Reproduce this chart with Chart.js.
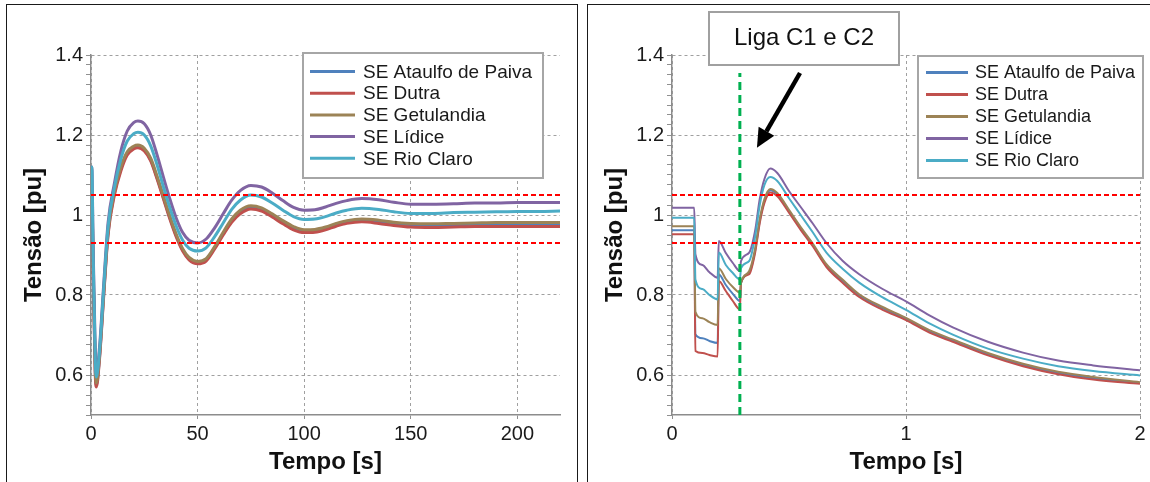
<!DOCTYPE html>
<html>
<head>
<meta charset="utf-8">
<script src="https://cdn.jsdelivr.net/npm/chart.js@4.4.1/dist/chart.umd.min.js"></script>
<style>
  body { margin: 0; background: #fff; width: 1150px; height: 482px; overflow: hidden; position: relative; }
  .frame { position: absolute; border: 1.5px solid #1a1a1a; box-sizing: border-box; }
  canvas { position: absolute; }
</style>
</head>
<body>
<div class="frame" style="left:6px;top:4px;width:572px;height:490px;"></div>
<div class="frame" style="left:587px;top:4px;width:575px;height:490px;"></div>
<canvas id="leftChart" width="568" height="476" style="left:8px;top:6px;"></canvas>
<canvas id="rightChart" width="561" height="476" style="left:589px;top:6px;"></canvas>
<script>
const seriesNames = ['SE Ataulfo de Paiva', 'SE Dutra', 'SE Getulandia', 'SE Lídice', 'SE Rio Claro'];
const seriesColors = ['#4f81bd', '#c0504d', '#9c8356', '#8064a2', '#4bacc6'];
const limitValues = [0.93, 1.05];
const switchTime = 0.29;
const yTickLabels = [0.6, 0.8, 1, 1.2, 1.4];
const leftXTicks = [0, 50, 100, 150, 200];
const rightXTicks = [0, 1, 2];

// left: 0..220 s
const leftTime = [0, 0.4, 1, 2, 2.5, 4, 6, 8, 11, 14, 17, 20, 22, 25, 28, 31, 34, 37, 40, 43, 46, 50, 54, 58, 62,
  66, 70, 75, 80, 85, 90, 95, 100, 105, 110, 115, 120, 127, 135, 142, 150, 160, 170, 180, 190, 200, 210, 220];
const leftAtaulfo = [0.965, 1.06, 0.86, 0.61, 0.575, 0.645, 0.805, 0.955, 1.055, 1.115, 1.153, 1.168, 1.171, 1.163, 1.138,
  1.093, 1.043, 0.993, 0.948, 0.913, 0.891, 0.881, 0.888, 0.918, 0.953, 0.985, 1.007, 1.019, 1.014, 0.999,
  0.982, 0.967, 0.96, 0.961, 0.967, 0.976, 0.983, 0.987, 0.984, 0.979, 0.976, 0.975, 0.976, 0.977, 0.978, 0.978, 0.978, 0.978];
const leftDutra = [0.955, 1.06, 0.85, 0.6, 0.57, 0.64, 0.8, 0.95, 1.05, 1.11, 1.15, 1.165, 1.168, 1.16, 1.135,
  1.09, 1.04, 0.99, 0.945, 0.91, 0.888, 0.878, 0.885, 0.915, 0.95, 0.982, 1.003, 1.015, 1.01, 0.995,
  0.978, 0.963, 0.956, 0.957, 0.963, 0.972, 0.979, 0.983, 0.979, 0.974, 0.970, 0.969, 0.970, 0.971, 0.971, 0.971, 0.971, 0.971];
const leftGetulandia = [0.975, 1.065, 0.87, 0.62, 0.58, 0.65, 0.81, 0.96, 1.06, 1.12, 1.158, 1.172, 1.175, 1.167, 1.142,
  1.097, 1.047, 0.997, 0.952, 0.916, 0.894, 0.884, 0.891, 0.921, 0.957, 0.99, 1.012, 1.023, 1.018, 1.003,
  0.986, 0.971, 0.963, 0.964, 0.97, 0.979, 0.986, 0.99, 0.987, 0.982, 0.979, 0.978, 0.979, 0.98, 0.981, 0.981, 0.981, 0.981];
const leftLidice = [1.02, 1.12, 0.92, 0.66, 0.6, 0.67, 0.83, 0.98, 1.08, 1.16, 1.21, 1.231, 1.235, 1.228, 1.2,
  1.15, 1.094, 1.04, 0.992, 0.956, 0.937, 0.93, 0.94, 0.968, 1.003, 1.037, 1.061, 1.074, 1.07, 1.055,
  1.036, 1.019, 1.012, 1.013, 1.02, 1.029, 1.036, 1.041, 1.038, 1.032, 1.027, 1.027, 1.028, 1.03, 1.03, 1.031, 1.031, 1.031];
const leftRioClaro = [0.995, 1.12, 0.9, 0.64, 0.595, 0.66, 0.82, 0.97, 1.07, 1.14, 1.185, 1.203, 1.207, 1.2, 1.173,
  1.125, 1.07, 1.018, 0.972, 0.937, 0.917, 0.91, 0.918, 0.946, 0.98, 1.014, 1.037, 1.05, 1.045, 1.03,
  1.012, 0.996, 0.989, 0.99, 0.996, 1.005, 1.012, 1.017, 1.014, 1.008, 1.004, 1.004, 1.006, 1.007, 1.008, 1.009, 1.009, 1.01];

// right: 0..2 s
const rightTime = [0, 0.095, 0.1, 0.13, 0.16, 0.195, 0.2, 0.23, 0.26, 0.29, 0.295, 0.33, 0.355, 0.375, 0.395, 0.42,
  0.45, 0.5, 0.55, 0.6, 0.66, 0.73, 0.8, 0.9, 1.0, 1.1, 1.2, 1.35, 1.5, 1.65, 1.8, 2.0];
const rightAtaulfo = [0.962, 0.962, 0.702, 0.692, 0.685, 0.68, 0.852, 0.825, 0.803, 0.785, 0.83, 0.855, 0.91, 0.985, 1.035, 1.062,
  1.052, 1.01, 0.967, 0.927, 0.874, 0.835, 0.799, 0.767, 0.74, 0.709, 0.686, 0.652, 0.625, 0.605, 0.592, 0.58];
const rightDutra = [0.952, 0.952, 0.66, 0.655, 0.65, 0.646, 0.835, 0.81, 0.785, 0.764, 0.83, 0.852, 0.905, 0.98, 1.03, 1.056,
  1.047, 1.006, 0.963, 0.923, 0.87, 0.83, 0.795, 0.763, 0.737, 0.706, 0.683, 0.649, 0.622, 0.602, 0.589, 0.578];
const rightGetulandia = [0.972, 0.972, 0.758, 0.742, 0.732, 0.725, 0.867, 0.84, 0.82, 0.806, 0.831, 0.86, 0.915, 0.99, 1.04, 1.065,
  1.055, 1.013, 0.97, 0.93, 0.877, 0.838, 0.802, 0.77, 0.743, 0.712, 0.689, 0.655, 0.628, 0.608, 0.595, 0.582];
const rightLidice = [1.018, 1.018, 0.902, 0.875, 0.857, 0.843, 0.935, 0.905, 0.88, 0.86, 0.885, 0.906, 0.96, 1.04, 1.09, 1.116,
  1.105, 1.06, 1.02, 0.98, 0.93, 0.885, 0.852, 0.815, 0.784, 0.749, 0.719, 0.683, 0.656, 0.636, 0.624, 0.612];
const rightRioClaro = [0.993, 0.993, 0.839, 0.815, 0.8, 0.789, 0.906, 0.875, 0.855, 0.839, 0.867, 0.885, 0.945, 1.025, 1.075, 1.095,
  1.085, 1.042, 1.0, 0.958, 0.906, 0.865, 0.831, 0.794, 0.763, 0.729, 0.701, 0.666, 0.641, 0.622, 0.61, 0.599];

const FONT = "'Liberation Sans', Arial, sans-serif";
const isMajorY = v => yTickLabels.some(t => Math.abs(t - v) < 1e-6);

function curveSets(time, lists, width) {
  return lists.map((vals, i) => ({
    label: seriesNames[i],
    data: time.map((t, k) => ({ x: t, y: vals[k] })),
    borderColor: seriesColors[i],
    borderWidth: width,
    pointRadius: 0,
    cubicInterpolationMode: 'monotone',
    order: 10 - i
  }));
}

function limitSets(xMin, xMax) {
  return limitValues.map(v => ({
    label: 'limit',
    data: [{ x: xMin, y: v }, { x: xMax, y: v }],
    borderColor: '#ff0000',
    borderWidth: 2,
    borderDash: [5, 3],
    pointRadius: 0,
    order: 1
  }));
}

// legend box drawn inside the plot
const boxLegend = {
  id: 'boxLegend',
  afterDraw(chart, args, o) {
    const ctx = chart.ctx;
    ctx.save();
    ctx.fillStyle = '#fff';
    ctx.fillRect(o.x, o.y, o.w, o.h);
    ctx.strokeStyle = '#a6a6a6';
    ctx.lineWidth = 2;
    ctx.strokeRect(o.x, o.y, o.w, o.h);
    ctx.font = o.size + 'px ' + FONT;
    ctx.textBaseline = 'middle';
    seriesNames.forEach((name, i) => {
      const y = o.y + o.first + i * o.step;
      ctx.strokeStyle = seriesColors[i];
      ctx.lineWidth = 3;
      ctx.beginPath();
      ctx.moveTo(o.x + o.line0, y);
      ctx.lineTo(o.x + o.line1, y);
      ctx.stroke();
      ctx.fillStyle = '#1a1a1a';
      ctx.fillText(name, o.x + o.text, y + 1);
    });
    ctx.restore();
  }
};

// "Liga C1 e C2" callout with arrow
const callout = {
  id: 'callout',
  afterDraw(chart, args, o) {
    if (!o.text) return;
    const ctx = chart.ctx;
    const xs = chart.scales.x, ys = chart.scales.y;
    ctx.save();
    ctx.fillStyle = '#fff';
    ctx.fillRect(o.box[0], o.box[1], o.box[2], o.box[3]);
    ctx.strokeStyle = '#a0a0a0';
    ctx.lineWidth = 2;
    ctx.strokeRect(o.box[0], o.box[1], o.box[2], o.box[3]);
    ctx.fillStyle = '#111';
    ctx.font = '24px ' + FONT;
    ctx.textAlign = 'center';
    ctx.textBaseline = 'middle';
    ctx.fillText(o.text, o.box[0] + o.box[2] / 2, o.box[1] + o.box[3] / 2);
    const x0 = xs.getPixelForValue(o.from[0]), y0 = ys.getPixelForValue(o.from[1]);
    const x1 = xs.getPixelForValue(o.to[0]), y1 = ys.getPixelForValue(o.to[1]);
    const a = Math.atan2(y1 - y0, x1 - x0);
    const hl = 19, hw = 9;
    const bx = x1 - hl * Math.cos(a), by = y1 - hl * Math.sin(a);
    ctx.strokeStyle = '#000';
    ctx.lineWidth = 4.5;
    ctx.beginPath();
    ctx.moveTo(x0, y0);
    ctx.lineTo(bx, by);
    ctx.stroke();
    ctx.fillStyle = '#000';
    ctx.beginPath();
    ctx.moveTo(x1, y1);
    ctx.lineTo(bx + hw * Math.sin(a), by - hw * Math.cos(a));
    ctx.lineTo(bx - hw * Math.sin(a), by + hw * Math.cos(a));
    ctx.closePath();
    ctx.fill();
    ctx.restore();
  }
};

function makeOptions(xMax, xTicks, padRight, legend, note) {
  return {
    responsive: false,
    animation: false,
    events: [],
    layout: { padding: { left: 8, right: padRight, top: 49, bottom: 0 } },
    plugins: {
      legend: { display: false },
      tooltip: { enabled: false },
      boxLegend: legend,
      callout: note
    },
    scales: {
      x: {
        type: 'linear',
        min: 0,
        max: xMax,
        afterBuildTicks: s => { s.ticks = xTicks.map(v => ({ value: v })); },
        afterFit: s => { s.height = 67; },
        ticks: {
          autoSkip: false,
          maxRotation: 0,
          padding: 3,
          color: '#1a1a1a',
          font: { family: FONT, size: 20 },
          callback: v => String(Math.round(v * 100) / 100)
        },
        grid: { color: '#a0a0a0', lineWidth: 1, tickLength: 4, tickColor: '#909090' },
        border: { display: true, color: '#8c8c8c', width: 1.5, dash: [3, 3] },
        title: {
          display: true, text: 'Tempo [s]', color: '#111',
          font: { family: FONT, size: 24, weight: 'bold' },
          padding: { top: 0, bottom: 5 }
        }
      },
      y: {
        min: 0.5,
        max: 1.4,
        afterFit: s => { s.width = 75; },
        ticks: {
          stepSize: 0.025,
          autoSkip: false,
          padding: 3,
          color: '#1a1a1a',
          font: { family: FONT, size: 20 },
          callback: v => isMajorY(v) ? String(Math.round(v * 10) / 10) : ''
        },
        grid: {
          color: c => (c.tick && isMajorY(c.tick.value)) ? '#a0a0a0' : 'rgba(0,0,0,0)',
          lineWidth: 1,
          tickLength: 5,
          tickColor: '#909090'
        },
        border: { display: true, color: '#8c8c8c', width: 1.5, dash: [3, 3] },
        title: {
          display: true, text: 'Tensão [pu]', color: '#111',
          font: { family: FONT, size: 24, weight: 'bold' },
          padding: { top: 4, bottom: 0 }
        }
      }
    }
  };
}

new Chart(document.getElementById('leftChart'), {
  type: 'line',
  data: {
    datasets: [
      ...curveSets(leftTime, [leftAtaulfo, leftDutra, leftGetulandia, leftLidice, leftRioClaro], 3),
      ...limitSets(0, 220)
    ]
  },
  options: makeOptions(220, leftXTicks, 16,
    { x: 295, y: 47, w: 240, h: 125, first: 18.5, step: 21.7, line0: 7, line1: 52, text: 60, size: 19 },
    {}),
  plugins: [boxLegend, callout]
});

new Chart(document.getElementById('rightChart'), {
  type: 'line',
  data: {
    datasets: [
      ...curveSets(rightTime, [rightAtaulfo, rightDutra, rightGetulandia, rightLidice, rightRioClaro], 2),
      ...limitSets(0, 2),
      {
        label: 'switch',
        data: [{ x: switchTime, y: 0.5 }, { x: switchTime, y: 1.355 }],
        borderColor: '#00b050',
        borderWidth: 3,
        borderDash: [8, 5],
        pointRadius: 0,
        order: 0
      }
    ]
  },
  options: makeOptions(2, rightXTicks, 10,
    { x: 329, y: 50, w: 225, h: 122, first: 16.5, step: 22, line0: 8, line1: 50, text: 57, size: 18 },
    { text: 'Liga C1 e C2', box: [120, 6, 190, 53], from: [0.547, 1.355], to: [0.363, 1.168] }),
  plugins: [boxLegend, callout]
});
</script>
</body>
</html>
